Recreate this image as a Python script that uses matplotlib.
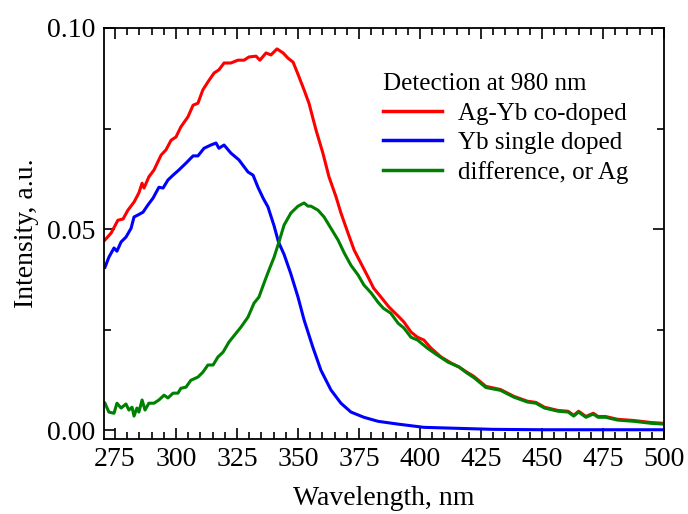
import matplotlib
matplotlib.use("Agg")
import matplotlib.pyplot as plt
from matplotlib.ticker import MultipleLocator

# ---- data ----
red_wl = [270.9, 273.4, 276.2, 278.3, 280.3, 282.8, 284.8, 286.1, 286.9, 288.9, 291.0, 293.9,
          295.9, 298.0, 300.0, 302.0, 304.9, 307.0, 309.0, 311.0, 313.1, 315.6, 317.6, 319.7,
          322.5, 325.4, 327.9, 329.9, 332.8, 334.4, 336.9, 338.9, 341.4, 343.9, 345.9, 348.0,
          350.0, 352.5, 354.5, 357.4, 360.2, 362.7, 365.6, 367.6, 370.5, 373.0, 375.8, 378.7,
          381.0, 384.0, 387.3, 391.0, 393.4, 396.3, 399.0, 401.6, 404.5, 408.6, 412.7, 416.0,
          419.0, 422.0, 427.0, 433.0, 438.5, 444.0, 447.5, 451.0, 456.6, 460.7, 463.0, 465.0,
          468.0, 471.0, 473.0, 476.0, 481.0, 487.7, 494.7, 500.0]
red_val = [0.0473, 0.0490, 0.0522, 0.0525, 0.0547, 0.0567, 0.0590, 0.0614, 0.0602, 0.0630,
           0.0647, 0.0684, 0.0697, 0.0721, 0.0729, 0.0754, 0.0779, 0.0808, 0.0813, 0.0846,
           0.0866, 0.0888, 0.0896, 0.0913, 0.0913, 0.0920, 0.0920, 0.0928, 0.0930, 0.0920,
           0.0938, 0.0933, 0.0948, 0.0938, 0.0925, 0.0915, 0.0885, 0.0846, 0.0813, 0.0746,
           0.0689, 0.0630, 0.0580, 0.0540, 0.0490, 0.0448, 0.0415, 0.0381, 0.0353, 0.0331,
           0.0306, 0.0284, 0.0269, 0.0244, 0.0231, 0.0224, 0.0204, 0.0182, 0.0167, 0.0157,
           0.0145, 0.0134, 0.0109, 0.0101, 0.0084, 0.0072, 0.0069, 0.0057, 0.0049, 0.0047,
           0.0037, 0.0047, 0.0034, 0.0042, 0.0034, 0.0034, 0.0027, 0.0024, 0.0019, 0.0017]

blue_wl = [270.9, 272.5, 274.6, 275.8, 277.5, 279.5, 281.6, 282.8, 284.4, 286.5, 288.5, 290.6,
           293.0, 294.7, 296.7, 298.8, 301.2, 304.1, 307.0, 309.0, 311.5, 314.3, 316.4, 317.6,
           319.7, 322.5, 325.8, 329.5, 331.6, 333.6, 335.7, 337.7, 340.2, 342.0, 344.3, 347.0,
           350.0, 352.5, 356.1, 359.4, 363.5, 367.6, 371.7, 377.0, 382.8, 391.0, 401.6, 412.7,
           430.0, 450.0, 475.0, 500.0]
blue_val = [0.0405, 0.0430, 0.0453, 0.0445, 0.0468, 0.0480, 0.0502, 0.0530, 0.0535, 0.0542,
            0.0560, 0.0577, 0.0604, 0.0602, 0.0622, 0.0634, 0.0647, 0.0664, 0.0682, 0.0682,
            0.0701, 0.0709, 0.0714, 0.0701, 0.0709, 0.0689, 0.0672, 0.0642, 0.0634, 0.0604,
            0.0577, 0.0555, 0.0508, 0.0468, 0.0437, 0.0390, 0.0331, 0.0274, 0.0206, 0.0149,
            0.0100, 0.0067, 0.0045, 0.0032, 0.0022, 0.0015, 0.0007, 0.0005, 0.0002, 0.0001,
            0.0001, 0.0001]

green_wl = [270.9, 272.5, 274.6, 275.8, 277.5, 279.5, 280.7, 282.0, 282.8, 284.0, 284.8, 286.1,
            287.3, 288.9, 291.0, 293.0, 295.1, 296.7, 298.8, 300.8, 302.0, 304.1, 306.1, 309.0,
            311.0, 313.1, 315.2, 317.2, 319.3, 321.7, 324.6, 326.6, 329.5, 332.0, 334.0, 336.1,
            338.1, 340.2, 342.2, 344.3, 347.1, 350.0, 352.5, 354.1, 355.3, 358.2, 360.7, 363.5,
            366.4, 369.0, 371.7, 374.6, 377.0, 380.0, 382.8, 385.0, 388.0, 391.0, 393.4, 396.3,
            399.0, 403.0, 407.0, 411.5, 416.0, 419.0, 422.0, 427.0, 433.0, 438.5, 444.0, 447.5,
            451.0, 456.6, 460.7, 463.0, 465.0, 468.0, 471.0, 473.0, 476.0, 481.0, 487.7, 494.7,
            500.0]
green_val = [0.0067, 0.0045, 0.0042, 0.0067, 0.0055, 0.0065, 0.0050, 0.0057, 0.0035, 0.0055,
             0.0045, 0.0075, 0.0050, 0.0067, 0.0067, 0.0075, 0.0087, 0.0080, 0.0092, 0.0092,
             0.0104, 0.0107, 0.0124, 0.0132, 0.0144, 0.0162, 0.0162, 0.0182, 0.0194, 0.0219,
             0.0241, 0.0256, 0.0281, 0.0316, 0.0331, 0.0366, 0.0398, 0.0430, 0.0468, 0.0510,
             0.0540, 0.0557, 0.0565, 0.0557, 0.0557, 0.0547, 0.0530, 0.0502, 0.0473, 0.0440,
             0.0410, 0.0386, 0.0361, 0.0341, 0.0318, 0.0303, 0.0291, 0.0266, 0.0254, 0.0231,
             0.0224, 0.0204, 0.0187, 0.0169, 0.0157, 0.0143, 0.0131, 0.0106, 0.0099, 0.0082,
             0.0070, 0.0067, 0.0055, 0.0047, 0.0045, 0.0035, 0.0045, 0.0032, 0.0040, 0.0032,
             0.0032, 0.0025, 0.0022, 0.0017, 0.0015]

labels = ["Ag-Yb co-doped", "Yb single doped", "difference, or Ag"]
legend_title = "Detection at 980 nm"
x_ticks = [275, 300, 325, 350, 375, 400, 425, 450, 475, 500]
y_ticks = [0.00, 0.05, 0.10]

plt.rcParams['font.family'] = ['Liberation Serif', 'DejaVu Serif']

fig = plt.figure(figsize=(6.88, 5.14), dpi=100)
ax = fig.add_axes([104/688, 75/514, 560/688, 411/514])

ax.plot(red_wl, red_val, color='#ff0000', lw=2.2, label=labels[0])
ax.plot(blue_wl, blue_val, color='#0000ff', lw=2.2, label=labels[1])
ax.plot(green_wl, green_val, color='#008000', lw=2.2, label=labels[2])

ax.set_xlim(270.5, 500)
ax.set_ylim(-0.0022, 0.1)
ax.set_xticks(x_ticks)
ax.set_yticks(y_ticks)
ax.set_yticklabels([f"{v:.2f}" for v in y_ticks])
ax.xaxis.set_minor_locator(MultipleLocator(5))
ax.yaxis.set_minor_locator(MultipleLocator(0.025))
ax.tick_params(which='both', direction='in', top=True, right=True, width=1.2,
               labelsize=20, pad=6)
ax.tick_params(which='major', length=8)
ax.tick_params(which='minor', length=5)
for s in ax.spines.values():
    s.set_linewidth(1.3)

ax.set_xlabel("Wavelength, nm", fontsize=20, labelpad=10)
ax.set_ylabel("Intensity, a.u.", fontsize=20, labelpad=6)

leg = ax.legend(title=legend_title, loc='upper left', bbox_to_anchor=(0.498, 0.89),
                frameon=False, fontsize=18, title_fontsize=18, alignment='left',
                handlelength=2.35, handletextpad=0.65, labelspacing=0.28,
                borderaxespad=0, borderpad=0)
for line in leg.get_lines():
    line.set_linewidth(2.5)

fig.savefig("out.png", dpi=100)
